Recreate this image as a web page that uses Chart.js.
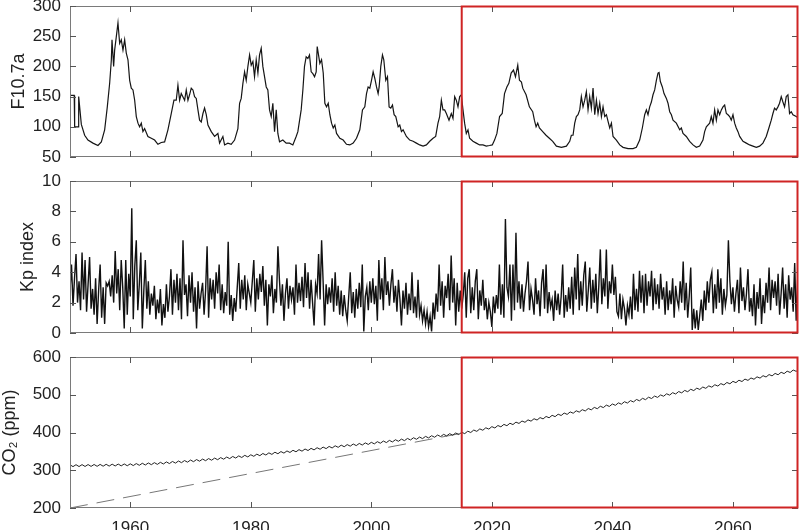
<!DOCTYPE html>
<html><head><meta charset="utf-8">
<script src="https://cdn.jsdelivr.net/npm/chart.js@4.4.1/dist/chart.umd.min.js"></script>
<style>
html,body{margin:0;padding:0;background:#fff;overflow:hidden;width:800px;height:530px;}
.panel{position:absolute;left:0;width:800px;}
</style></head><body>
<div class="panel" style="top:-14px;height:191px"><canvas id="c1"></canvas></div>
<div class="panel" style="top:161px;height:192px"><canvas id="c2"></canvas></div>
<div class="panel" style="top:337px;height:193px"><canvas id="c3"></canvas></div>
<script>
// ---- axes ----
const xMin = 1950, xMax = 2070.8;
const xTickYears = [1960, 1980, 2000, 2020, 2040, 2060];
const highlightStart = 2015;

// ---- F10.7a (solar flux) ----
const f107Years = [1950.0,1950.7,1950.77,1951.33,1951.44,1951.88,1952.43,1952.98,1953.81,1954.64,1955.2,1955.75,1956.19,1956.58,1956.86,1956.97,1957.24,1957.41,1957.68,1957.96,1958.24,1958.51,1958.79,1959.07,1959.34,1959.62,1959.9,1960.17,1960.45,1960.73,1961.0,1961.28,1961.55,1961.83,1962.1,1962.38,1962.93,1963.49,1964.04,1964.59,1965.14,1965.7,1966.25,1966.8,1967.25,1967.63,1967.91,1968.19,1968.46,1969.02,1969.29,1969.57,1969.84,1970.12,1970.4,1970.67,1970.95,1971.23,1971.5,1971.78,1972.06,1972.33,1972.61,1972.89,1973.44,1973.99,1974.54,1974.82,1975.37,1975.65,1976.2,1976.75,1977.31,1977.86,1978.14,1978.41,1978.69,1978.97,1979.24,1979.52,1979.8,1980.07,1980.35,1980.62,1980.9,1981.18,1981.45,1981.73,1982.0,1982.28,1982.56,1982.83,1983.11,1983.39,1983.66,1983.94,1984.22,1984.49,1984.77,1985.32,1985.87,1986.42,1986.98,1987.53,1987.81,1988.36,1988.64,1988.91,1989.19,1989.47,1989.74,1990.02,1990.3,1990.58,1990.85,
1991.02,1991.46,1991.74,1992.02,1992.29,1992.57,1992.85,1993.12,1993.4,1993.68,1993.95,1994.23,1994.78,1995.33,1995.88,1996.43,1996.99,1997.54,1998.09,1998.53,1998.92,1999.2,1999.47,1999.75,2000.03,2000.3,2000.58,2000.86,2001.13,2001.3,2001.57,2001.85,2002.07,2002.4,2002.68,2002.95,2003.23,2003.51,2003.78,2004.06,2004.45,2004.72,2005.0,2005.27,2005.82,2006.37,2006.93,2007.48,2008.03,2008.58,2009.14,2009.69,2010.24,2010.68,2011.06,2011.34,2011.62,2011.89,2012.17,2012.45,2012.89,2013.27,2013.55,2013.83,2014.1,2014.38,2014.66,2014.93,2015.21,2015.48,2015.76,2016.04,2016.31,2016.86,2017.42,2017.97,2018.52,2019.07,2019.62,2020.07,2020.45,2020.84,2021.28,2021.72,2022.1,2022.49,2022.82,2023.2,2023.59,2023.92,2024.3,2024.58,2024.91,2025.13,2025.68,2026.23,2026.78,2027.06,2027.34,2027.61,2027.89,2028.44,2028.99,2029.54,2030.1,
2030.71,2031.54,2032.37,2032.92,2033.19,2033.47,2033.75,2034.02,2034.3,2034.58,2034.85,2035.13,2035.41,2035.68,2035.96,2036.24,2036.51,2036.79,2037.07,2037.35,2037.62,2037.9,2038.18,2038.45,2038.73,2039.01,2039.28,2039.56,2039.84,2040.11,2040.66,2041.22,2041.77,2042.6,2043.43,2043.98,2044.53,2044.97,2045.36,2045.64,2045.91,2046.19,2046.47,2046.74,2047.02,2047.3,2047.57,2047.74,2047.96,2048.29,2048.57,2048.96,2049.23,2049.51,2049.79,2050.06,2050.61,2051.17,2051.44,2051.72,2052.27,2052.82,2053.38,2053.93,2054.48,2055.03,2055.31,2055.59,2056.14,2056.41,2056.69,2056.97,2057.25,2057.52,2057.8,2058.08,2058.35,2058.63,2058.91,2059.18,2059.46,2059.73,2060.01,2060.29,2060.56,2060.84,2061.12,2061.67,2062.22,2062.77,2063.32,2063.88,2064.43,2064.98,2065.53,2065.97,2066.36,2066.64,2066.91,2067.19,2067.47,2067.74,2068.02,2068.3,2068.57,2068.85,2069.13,2069.4,2069.68,2069.96,2070.51,2070.95];
const f107Vals = [152,152,100,100,150,104,86,78,73,69,75,95,133,172,211,244,200,227,249,272,238,244,227,244,222,211,177,164,161,144,117,106,100,106,92,97,84,81,78,71,74,75,95,122,144,144,169,144,155,144,161,144,153,164,161,150,147,128,111,108,122,131,120,103,92,84,89,73,84,70,73,71,78,97,139,147,172,191,177,200,219,202,208,183,211,189,219,230,200,183,166,161,128,117,139,92,128,89,75,78,73,73,70,84,92,128,161,200,216,213,219,191,188,183,191,
233,205,211,189,139,133,139,120,106,98,103,89,81,78,71,70,73,81,95,128,133,155,166,164,177,191,180,166,155,166,200,219,211,177,183,133,131,136,120,117,100,103,92,95,84,78,76,73,70,68,70,76,81,84,106,117,144,128,128,122,111,122,114,150,144,133,150,153,128,106,89,95,81,76,73,70,70,68,69,70,78,89,117,122,155,166,172,189,194,183,202,177,174,164,153,133,125,111,100,106,98,92,86,81,76,
68,66,68,76,86,86,106,117,120,128,150,133,144,158,128,150,131,164,120,144,122,139,117,133,117,120,109,98,106,84,78,70,66,64,64,66,78,98,120,128,120,133,141,153,161,177,189,190,175,166,155,147,139,125,120,111,106,95,98,89,84,76,70,66,68,78,92,100,106,117,106,128,111,128,120,128,133,136,122,120,117,111,120,106,98,92,84,76,73,70,68,66,68,73,84,98,111,122,131,128,133,139,150,141,133,150,153,122,125,120,117,114];

// ---- Kp index (quarterly, starting 1950.0) ----
const kpStart = 1950, kpStep = 0.25;
const kpVals = [
2.8,4.5,1.8,3.6, 5.2,2.0,3.4,1.5, 5.3,2.2,4.8,1.4, 3.2,5.0,1.6,2.9, 1.2,3.6,0.6,2.8,
4.5,1.0,3.0,0.6, 3.3,3.1,3.4,2.4, 3.8,2.0,5.4,2.6, 4.2,1.5,4.8,3.0, 0.3,4.8,1.2,3.9,
2.4,8.2,0.9,4.4, 6.1,1.5,3.2,5.3, 0.3,2.8,4.8,1.6, 3.4,1.2,2.6,1.8, 3.1,0.9,2.2,1.3,
2.9,0.5,1.9,1.0, 3.2,1.4,2.4,4.2, 1.2,3.5,2.0,3.9, 1.5,3.6,0.9,6.1, 2.5,3.2,1.1,3.8,
2.0,4.0,1.4,3.0, 0.3,3.4,1.6,2.6, 3.3,1.2,2.8,5.7, 1.0,3.6,2.2,3.5, 1.6,4.0,2.6,4.5,
1.5,3.2,1.3,2.7, 1.8,6.0,1.2,2.5, 0.8,2.3,1.4,3.0, 4.6,1.6,3.5,2.2, 3.8,1.5,3.2,2.6,
2.0,3.4,4.8,1.4, 3.6,2.2,3.9,2.7, 4.4,1.8,3.5,0.5, 3.2,2.4,3.8,1.3, 2.9,2.0,5.7,3.5,
1.8,3.2,0.8,2.6, 3.6,1.6,3.1,2.2, 3.0,1.2,4.5,2.0, 3.3,2.1,3.7,1.7, 4.6,2.3,4.0,1.6,
3.5,2.0,0.5,3.2, 2.6,5.2,2.2,6.1, 3.4,0.5,3.2,1.9, 3.0,2.0,3.6,1.4, 4.0,1.8,3.1,1.2,
2.8,1.1,2.5,1.5, 0.8,2.4,4.0,1.3, 2.7,1.0,2.9,1.6, 3.3,1.7,4.5,0.1, 2.4,3.0,1.5,3.4,
2.0,3.6,1.9,3.1, 0.8,4.8,2.2,3.6, 1.5,5.0,2.5,3.4, 1.8,3.2,4.2,2.0, 3.1,1.4,3.5,2.2,
0.5,2.8,1.6,3.3, 1.2,2.6,1.5,4.0, 1.3,2.4,1.0,3.5, 1.2,1.8,0.8,1.5, 0.6,1.4,0.4,1.1,
0.1,2.0,0.9,2.6, 1.4,4.5,1.8,3.4, 1.0,3.1,2.3,3.9, 1.5,5.1,2.0,3.6, 0.5,3.3,1.4,2.8,
1.6,2.5,4.0,1.0, 3.6,4.2,1.3,3.0, 1.5,3.4,4.2,0.9, 2.8,1.8,3.5,1.5, 2.3,0.9,2.0,1.4,
0.4,2.4,1.3,2.5, 1.6,4.5,1.2,3.2, 1.0,7.5,3.0,2.4, 4.5,0.8,4.5,1.5, 6.6,2.0,3.4,1.6,
3.2,1.4,2.6,3.4, 4.7,1.5,2.9,2.2, 1.2,3.6,1.9,2.8, 1.1,3.3,4.2,1.6, 4.5,1.3,2.7,1.7,
2.2,0.8,2.8,1.5, 2.6,1.2,2.4,4.5, 1.0,2.5,1.4,3.0, 1.6,3.7,1.2,4.3, 2.2,5.2,1.5,3.4,
1.8,3.8,4.7,1.4, 2.8,4.3,1.6,3.5, 2.0,3.9,1.3,3.1, 5.5,1.9,3.6,2.4, 5.5,1.6,3.4,2.6,
4.5,2.5,3.7,1.4, 1.1,2.6,0.9,2.2, 1.6,0.5,1.8,1.2, 2.4,0.9,3.9,1.5, 2.9,1.4,4.1,2.0,
3.8,1.3,3.9,1.8, 3.4,2.4,4.1,1.5, 3.6,1.9,3.2,1.6, 3.9,2.2,3.0,1.2, 3.4,1.5,2.8,1.9,
3.6,1.0,3.1,2.2, 1.7,3.4,2.0,4.7, 1.5,3.3,1.0,2.4, 4.3,0.2,1.6,0.3, 1.5,0.2,1.2,2.2,
0.8,2.8,1.5,3.4, 2.0,3.5,4.0,1.3, 3.2,1.6,4.2,2.0, 3.6,1.2,2.9,1.8, 2.5,6.1,3.4,1.9,
3.0,1.4,2.6,3.5, 1.3,4.3,2.1,3.0, 1.5,2.6,4.2,1.4, 2.3,1.1,3.2,0.5, 2.7,1.6,3.6,0.6,
2.5,1.3,3.3,2.0, 4.3,1.5,3.5,2.3, 3.4,1.8,3.9,1.2, 2.6,4.3,1.6,3.2, 1.0,3.8,2.2,3.0,
1.4,4.6,0.8,3.6, 2.5];

// ---- CO2 (ppm, half-yearly, starting 1950.0) ----
const co2Start = 1950, co2Step = 0.5;
const co2Vals = [
314.5,309.6, 314.7,309.8, 314.9,310.0, 315.1,310.2, 315.3,310.4, 315.5,310.7, 315.8,311.0, 316.1,311.3, 316.4,311.6, 316.7,311.9,
317.0,312.4, 317.7,313.1, 318.5,313.9, 319.3,314.7, 320.1,315.6, 321.0,316.6, 322.1,317.7, 323.3,318.9, 324.5,320.1, 325.7,321.4,
327.0,322.7, 328.3,324.0, 329.6,325.3, 330.9,326.6, 332.2,327.9, 333.5,329.3, 335.0,330.8, 336.5,332.3, 338.0,333.8, 339.5,335.3,
341.0,336.9, 342.7,338.6, 344.4,340.3, 346.1,342.0, 347.8,343.7, 349.5,345.4, 351.2,347.1, 352.9,348.8, 354.6,350.5, 356.3,352.2,
358.0,353.9, 359.7,355.6, 361.4,357.3, 363.1,359.0, 364.8,360.7, 366.5,362.3, 368.0,363.8, 369.5,365.3, 371.0,366.8, 372.5,368.3,
374.0,369.9, 375.7,371.6, 377.4,373.3, 379.1,375.0, 380.8,376.7, 382.5,378.4, 384.3,380.2, 386.1,382.0, 387.9,383.8, 389.7,385.6,
391.5,387.4, 393.3,389.2, 395.1,391.0, 396.9,392.8, 398.7,394.6, 400.5,397.0, 403.5,400.0, 406.5,403.0, 409.5,406.0, 412.5,409.0,
415.5,412.0, 418.5,415.0, 421.5,418.0, 424.5,421.0, 427.5,424.0, 430.5,427.0, 433.5,430.0, 436.5,433.0, 439.5,436.0, 442.5,439.0,
445.5,442.0, 448.5,445.0, 451.5,448.0, 454.5,451.0, 457.5,454.0, 460.5,457.0, 463.5,460.0, 466.5,463.0, 469.5,466.0, 472.5,469.0,
475.5,472.0, 478.5,475.0, 481.5,478.0, 484.5,481.0, 487.5,484.0, 490.5,487.0, 493.5,490.0, 496.5,493.0, 499.5,496.0, 502.5,499.0,
505.5,502.0, 508.5,505.0, 511.5,508.0, 514.5,511.0, 517.5,514.0, 520.5,517.0, 523.5,520.0, 526.5,523.0, 529.5,526.0, 532.5,529.0,
535.5,532.0, 538.5,535.0, 541.5,538.0, 544.5,541.0, 547.5,544.0, 550.5,547.0, 553.5,550.0, 556.5,553.0, 559.5,556.0, 562.5,559.0,
565.5,562.0, 568.5];
// pre-industrial trend reference (dashed)
const co2RefYears = [1950, 2015];
const co2RefVals = [200, 398];

// ---- y axes ----
const f107Range = [50, 300, 50];
const kpRange = [0, 10, 2];
const co2Range = [200, 600, 100];

const FONT = '"Liberation Sans", Arial, Helvetica, sans-serif';
const TEXT = '#222';

const framePlugin = {
  id: 'frameTicks',
  afterDatasetsDraw(chart) {
    const {ctx, chartArea: a, scales: {x, y}} = chart;
    ctx.save();
    ctx.strokeStyle = '#7a7a7a';
    ctx.lineWidth = 1;
    ctx.strokeRect(a.left + 0.5, a.top + 0.5, a.width - 1, a.height - 1);
    ctx.strokeStyle = '#555';
    const L = 6;
    ctx.beginPath();
    xTickYears.forEach(v => {
      const px = Math.round(x.getPixelForValue(v)) + 0.5;
      ctx.moveTo(px, a.bottom); ctx.lineTo(px, a.bottom - L);
      ctx.moveTo(px, a.top); ctx.lineTo(px, a.top + L);
    });
    y.ticks.forEach(t => {
      const py = Math.round(y.getPixelForValue(t.value)) + 0.5;
      ctx.moveTo(a.left, py); ctx.lineTo(a.left + L, py);
      ctx.moveTo(a.right, py); ctx.lineTo(a.right - L, py);
    });
    ctx.stroke();
    const rx = x.getPixelForValue(highlightStart);
    ctx.strokeStyle = '#cf2424';
    ctx.lineWidth = 2;
    ctx.strokeRect(rx, a.top + 0.5, a.right - rx - 0.5, a.height - 1);
    ctx.restore();
  }
};

function makeChart(id, datasets, range, title, titlePad, showX, pad) {
  return new Chart(document.getElementById(id), {
    type: 'line',
    data: { datasets },
    plugins: [framePlugin],
    options: {
      responsive: true, maintainAspectRatio: false, animation: false, events: [],
      layout: { padding: pad },
      plugins: { legend: { display: false }, tooltip: { enabled: false } },
      elements: { point: { radius: 0 }, line: { tension: 0 } },
      scales: {
        x: {
          type: 'linear', min: xMin, max: xMax, display: showX,
          grid: { display: false }, border: { display: false },
          afterBuildTicks: s => { s.ticks = xTickYears.map(v => ({ value: v })); },
          afterFit: s => { if (showX) s.height = 22; },
          ticks: { font: { family: FONT, size: 17 }, color: TEXT, padding: 2, maxRotation: 0, autoSkip: false,
                   callback: v => String(v) }
        },
        y: {
          min: range[0], max: range[1],
          grid: { display: false, drawTicks: false }, border: { display: false },
          afterFit: s => { s.width = 70; },
          ticks: { stepSize: range[2], font: { family: FONT, size: 17 }, color: TEXT, padding: 9 },
          title: { display: true, text: title, font: { family: FONT, size: 18 }, color: TEXT,
                   padding: { top: titlePad, bottom: 0 } }
        }
      }
    }
  });
}

makeChart('c1', [{
  data: f107Years.map((x, i) => ({ x, y: f107Vals[i] })),
  borderColor: '#151515', borderWidth: 1.2
}], f107Range, 'F10.7a', 8, false, { top: 20, bottom: 20, left: 0, right: 2 });

makeChart('c2', [{
  data: kpVals.map((v, i) => ({ x: kpStart + i * kpStep, y: v })),
  borderColor: '#111', borderWidth: 1.4
}], kpRange, 'Kp index', 17, false, { top: 20, bottom: 20, left: 0, right: 2 });

makeChart('c3', [{
  data: co2Vals.map((v, i) => ({ x: co2Start + i * co2Step, y: v })),
  borderColor: '#222', borderWidth: 1.0
}, {
  data: co2RefYears.map((x, i) => ({ x, y: co2RefVals[i] })),
  borderColor: '#777', borderWidth: 1.0, borderDash: [18, 9]
}], co2Range, 'CO\u2082 (ppm)', -1, true, { top: 20, bottom: 0, left: 0, right: 2 });
</script>
</body></html>
